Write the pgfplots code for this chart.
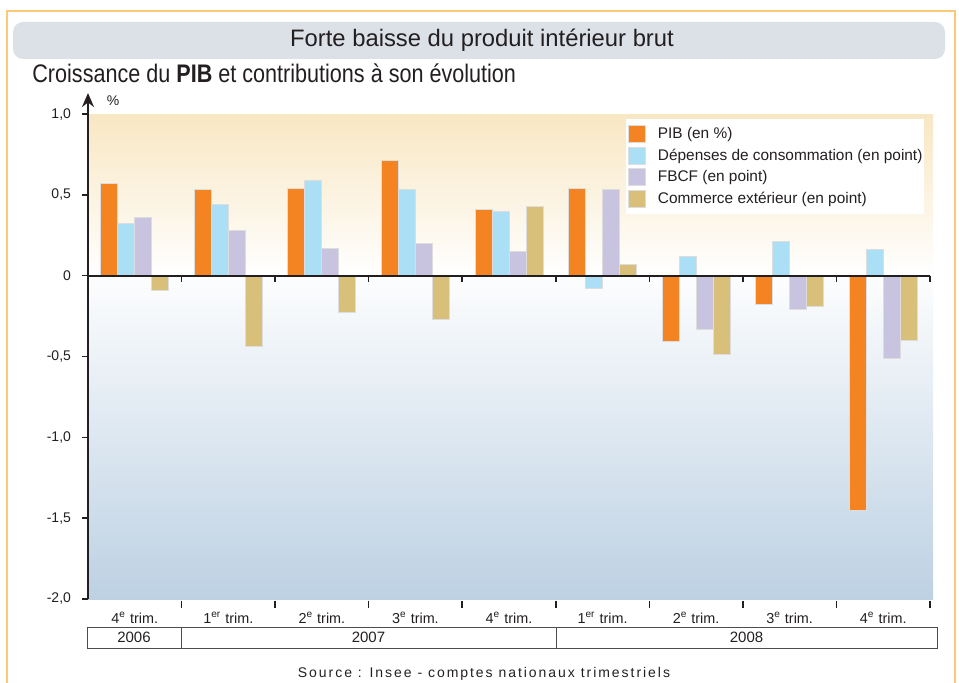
\documentclass[border=0pt]{standalone}
\usepackage{fontspec}
\setmainfont{Liberation Sans}
\newfontfamily\condfont[FakeStretch=0.85]{Liberation Sans}
\newfontfamily\spacedfont[LetterSpace=14]{Liberation Sans}
\usepackage{pgfplots}
\usepackage{pgfplotstable}
\pgfplotsset{compat=1.18}
\usetikzlibrary{arrows.meta}

\definecolor{pib}{HTML}{F38421}
\definecolor{conso}{HTML}{AADFF6}
\definecolor{fbcf}{HTML}{C8C4E0}
\definecolor{comm}{HTML}{D8C07A}
\definecolor{bgtop}{HTML}{F8E7C3}
\definecolor{bgbot}{HTML}{BDD1E3}
\definecolor{titlebg}{HTML}{DCE1E8}
\definecolor{framec}{HTML}{FCC979}
\definecolor{txt}{HTML}{231F20}
\definecolor{barline}{HTML}{DDDDDD}

% contributions trimestrielles (4e trim. 2006 -> 4e trim. 2008)
\pgfplotstableread{
q pib conso fbcf comm
1  0.57  0.32  0.36 -0.09
2  0.53  0.44  0.28 -0.44
3  0.54  0.59  0.17 -0.23
4  0.71  0.53  0.20 -0.27
5  0.41  0.40  0.15  0.43
6  0.54 -0.08  0.53  0.07
7 -0.41  0.12 -0.33 -0.49
8 -0.18  0.21 -0.21 -0.19
9 -1.45  0.16 -0.51 -0.40
}\data

\pgfplotsset{
  sq/.style={legend image code/.code={
    \draw[##1,draw=barline] (0pt,-4.15pt) rectangle (8.5pt,4.35pt);
    \path[draw=none,fill=none] (0pt,0pt) -- (14.5pt,0pt);}},
}

\begin{document}
\begin{tikzpicture}[x=0.5pt,y=0.5pt]

% cadre et bandeau du titre
\draw[framec, line width=1pt] (7,-2) -- (7,671) -- (955,671) -- (955,-2);
\fill[titlebg, rounded corners=5pt] (13,623) rectangle (945,660);
\node[text=txt, font=\fontsize{11.9}{14}\selectfont] at (482,642) {Forte baisse du produit intérieur brut};
\node[anchor=base west, inner sep=0pt, text=txt, font=\condfont\fontsize{12.7}{14}\selectfont]
  at (32,600) {Croissance du {\bfseries PIB} et contributions à son évolution};
\node[text=txt, font=\fontsize{7}{8}\selectfont] at (113,581) {\%};

\begin{axis}[
  at={(44pt,41.5pt)}, anchor=south west,
  scale only axis, width=421pt, height=242.5pt,
  set layers, clip=false,
  xmin=0.5, xmax=9.5, ymin=-2, ymax=1,
  axis line style={draw=none},
  ybar=0pt, bar width=8.5pt,
  xtick={1,...,9},
  xticklabels={4\textsuperscript{e} trim., 1\textsuperscript{er} trim., 2\textsuperscript{e} trim., 3\textsuperscript{e} trim., 4\textsuperscript{e} trim.,
               1\textsuperscript{er} trim., 2\textsuperscript{e} trim., 3\textsuperscript{e} trim., 4\textsuperscript{e} trim.},
  xtick style={draw=none},
  xticklabel style={font=\fontsize{7.2}{8}\selectfont, text=txt, text height=5.5pt, text depth=1.5pt},
  ytick={-2,-1.5,-1,-0.5,0,0.5,1},
  yticklabels={{-2,0},{-1,5},{-1,0},{-0,5},0,{0,5},{1,0}},
  ytick pos=left, tick align=outside, major tick length=3pt,
  ytick style={line width=0.75pt, txt},
  yticklabel style={font=\fontsize{7}{8}\selectfont, text=txt, xshift=-2pt},
  legend style={at={(0.639,0.99)}, anchor=north west, draw=none, fill=white,
    inner xsep=1pt, inner ysep=3pt, font=\fontsize{7.7}{9}\selectfont, text=txt,
    nodes={inner sep=0pt, text height=6pt, text depth=1.8pt}, row sep=1.8pt},
  legend cell align=left,
]
\begin{pgfonlayer}{axis background}
\fill[top color=bgtop, bottom color=white] (rel axis cs:0,1) rectangle ([xshift=1.5pt]axis cs:9.5,0);
\fill[top color=white!96!bgbot, bottom color=bgbot] (axis cs:0.5,0) rectangle ([xshift=1.5pt]rel axis cs:1,0);
\end{pgfonlayer}

\addplot[fill=pib,   draw=barline, line width=0.5pt, sq] table[x=q,y=pib]   {\data};
\addlegendentry{PIB (en \%)}
\addplot[fill=conso, draw=barline, line width=0.5pt, sq] table[x=q,y=conso] {\data};
\addlegendentry{Dépenses de consommation (en point)}
\addplot[fill=fbcf,  draw=barline, line width=0.5pt, sq] table[x=q,y=fbcf]  {\data};
\addlegendentry{FBCF (en point)}
\addplot[fill=comm,  draw=barline, line width=0.5pt, sq] table[x=q,y=comm]  {\data};
\addlegendentry{Commerce extérieur (en point)}

\draw[line width=0.9pt, txt] (axis cs:0.5,0) -- (axis cs:9.5,0);
\pgfplotsinvokeforeach{1.5,2.5,3.5,4.5,5.5,6.5,7.5,8.5,9.5}{
  \draw[line width=0.75pt, txt] (axis cs:#1,0) -- ([yshift=-3pt]axis cs:#1,0);
  \draw[line width=0.75pt, txt] ([yshift=-0.8pt]axis cs:#1,-2) -- ([yshift=-4.4pt]axis cs:#1,-2);
}
\draw[line width=1pt, txt, -{Stealth[length=7pt,width=6pt]}] (rel axis cs:0,0) -- ([yshift=10.5pt]rel axis cs:0,1);
\end{axis}

% annees
\draw[line width=0.5pt, black!70] (87,34) rectangle (937,55);
\draw[line width=0.5pt, black!70] (181,34) -- (181,55) (556,34) -- (556,55);
\begin{scope}[every node/.style={text=txt, font=\fontsize{7.5}{9}\selectfont}]
\node at (134,44.5) {2006};
\node at (368.5,44.5) {2007};
\node at (746.5,44.5) {2008};
\end{scope}

\node[text=txt, font=\spacedfont\fontsize{7}{8}\selectfont] at (484,8) {Source : Insee - comptes nationaux trimestriels};

\pgfresetboundingbox
\path[use as bounding box] (0,0) rectangle (959,682);
\end{tikzpicture}
\end{document}
